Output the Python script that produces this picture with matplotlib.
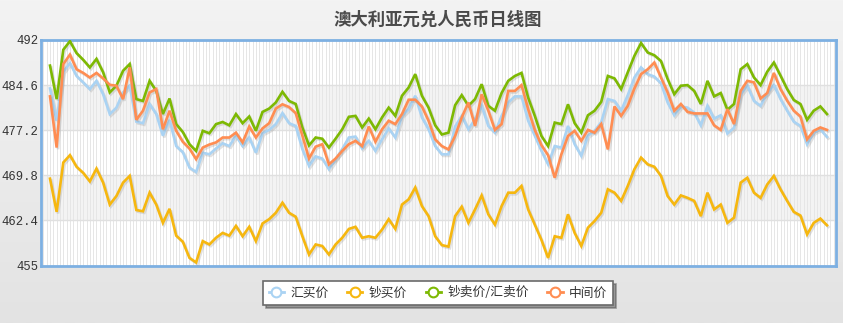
import numpy as np
import matplotlib
matplotlib.use('Agg')
import matplotlib.pyplot as plt
import matplotlib.patheffects as pe
from matplotlib.lines import Line2D
from matplotlib.colors import LinearSegmentedColormap

plt.rcParams['font.family'] = ['Noto Sans CJK SC', 'DejaVu Sans']

# daily quotes, oldest first
hui_mai = [
    484.05, 478.75, 486.8, 488.2, 486.1, 485.05, 483.95, 485.3, 483.1, 479.85,
    480.9, 483.4, 484.5, 478.6, 478.35, 481.5, 479.85, 476.3, 478.9, 474.6,
    473.6, 471.05, 470.35, 473.5, 473.25, 474.2, 475.05, 474.6, 476.3,
    474.6, 476.0, 473.5, 476.7, 477.25, 478.2, 480.0, 478.35, 477.9, 474.1,
    471.35, 472.9, 472.55, 470.8, 472.4, 474.1, 476.0, 476.15, 474.2, 475.45,
    473.8, 475.7, 477.5, 476.0, 479.55, 480.65, 482.85, 479.3, 477.35,
    474.6, 473.25, 473.25, 477.8, 479.55, 477.35, 479.0, 481.2, 477.9, 476.8,
    479.55, 481.75, 482.75, 482.75, 478.75, 476.3, 473.8, 471.6, 474.6, 474.35,
    477.9, 474.9, 473.0, 476.3, 477.1, 478.5, 482.3, 482.0, 480.4,
    482.95, 485.85, 487.5, 486.4, 486.0, 484.9, 481.75, 479.65, 481.1, 480.9,
    480.1, 478.0, 481.2, 479.1, 479.65, 476.65, 477.6, 483.1, 484.5, 482.0,
    481.2, 483.3, 484.6, 482.3, 480.4, 478.6, 477.9, 474.9, 476.8, 477.35, 476.1,
]

chao_mai = [
    469.25, 463.8, 471.9, 473.1, 471.2, 470.2, 468.8, 470.9, 468.6, 465.0,
    466.4, 468.6, 469.7, 464.1, 463.9, 466.95, 465.0, 462.0, 464.3, 459.9,
    458.9, 456.25, 455.5, 459.0, 458.45, 459.55, 460.35, 459.9, 461.5,
    459.8, 461.35, 459.0, 461.9, 462.6, 463.65, 465.3, 463.65, 463.0, 459.8,
    456.8, 458.45, 458.2, 456.8, 458.45, 459.55, 461.0, 461.35, 459.55, 459.8,
    459.55, 460.9, 462.6, 461.0, 465.0, 465.85, 467.8, 464.75, 463.1,
    459.8, 458.35, 458.1, 463.1, 464.65, 462.0, 464.2, 466.5, 463.4, 461.7,
    464.75, 466.95, 466.95, 468.05, 464.2, 461.7, 459.2, 456.25, 459.8, 459.55,
    463.4, 460.35, 458.2, 461.2, 462.3, 463.65, 467.5, 466.95, 465.6,
    468.05, 470.8, 472.7, 471.6, 471.2, 469.7, 466.4, 465.0, 466.5, 466.1,
    465.6, 463.1, 466.95, 464.2, 465.0, 462.0, 462.85, 468.6, 469.4, 466.95,
    466.1, 468.3, 469.7, 467.5, 465.6, 463.8, 463.2, 460.1, 462.0, 462.7, 461.6,
]

chao_mai_chu = [
    487.8, 482.3, 490.4, 491.8, 489.85, 488.75, 487.5, 488.9, 486.7, 483.4,
    484.5, 486.95, 488.05, 482.3, 482.0, 485.3, 483.65, 479.85, 482.4, 478.2,
    476.9, 474.9, 473.8, 477.1, 476.7, 478.2, 478.55, 478.0, 479.85,
    478.35, 479.45, 477.1, 480.2, 480.75, 481.75, 483.5, 482.0, 481.5, 477.65,
    474.7, 476.0, 475.8, 474.35, 475.8, 477.35, 479.4, 479.55, 477.65, 479.1,
    477.35, 479.3, 480.9, 479.55, 482.85, 484.2, 486.4, 482.85, 480.9,
    478.0, 476.5, 476.8, 481.3, 482.95, 481.2, 482.3, 484.75, 481.2, 480.4,
    483.3, 485.3, 486.1, 486.6, 482.55, 479.55, 476.25, 474.6, 478.45, 478.2,
    481.45, 478.35, 476.8, 479.65, 480.4, 481.85, 486.1, 485.7, 483.95,
    486.7, 489.4, 491.5, 489.95, 489.5, 488.55, 485.6, 483.1, 484.5, 484.6,
    483.65, 481.5, 485.3, 482.75, 483.3, 480.55, 481.5, 487.2, 488.05, 485.85,
    484.6, 486.8, 488.3, 486.15, 483.95, 482.15, 481.5, 478.9, 480.4, 481.1, 479.85,
]

zhong_jian = [
    482.75, 474.35, 488.05, 489.6, 487.2, 486.6, 485.85, 486.6, 485.7, 484.65,
    484.5, 482.3, 487.5, 478.9, 480.4, 483.4, 483.95, 477.35, 480.4, 477.1,
    475.3, 474.2, 472.45, 474.35, 474.85, 475.2, 476.0, 476.0, 476.8,
    475.2, 477.8, 476.0, 477.5, 478.35, 480.75, 481.45, 481.0, 480.0, 476.3,
    472.55, 474.5, 474.9, 471.6, 472.55, 473.8, 474.9, 475.45, 474.6, 477.8,
    475.3, 477.35, 478.75, 478.2, 479.85, 482.2, 482.2, 481.1, 478.75,
    475.7, 474.6, 474.05, 476.25, 479.3, 481.75, 477.9, 483.1, 480.4, 477.25,
    478.2, 483.65, 483.65, 484.6, 480.65, 477.25, 474.75, 473.1, 469.4, 473.25,
    476.25, 477.1, 475.45, 477.25, 476.8, 478.2, 474.05, 481.1, 479.55,
    481.2, 484.05, 486.4, 487.2, 488.3, 485.85, 483.4, 480.4, 481.5, 480.2,
    479.95, 479.95, 479.95, 478.0, 477.25, 480.65, 478.2, 483.65, 485.3, 485.05,
    482.4, 483.3, 486.6, 483.95, 482.05, 480.4, 479.45, 475.7, 477.1, 477.65, 477.25,
]

names = ['汇买价', '钞买价', '钞卖价/汇卖价', '中间价']
colors = ['#aad3f3', '#f6b70f', '#7db903', '#ff8d52']
yticks = [455, 462.4, 469.8, 477.2, 484.6, 492]
ytick_labels = ['455', '462.4', '469.8', '477.2', '484.6', '492']

W, H = 843, 323
fig = plt.figure(figsize=(W / 100, H / 100), dpi=100)

# light grey gradient behind everything
bg = fig.add_axes([0, 0, 1, 1], zorder=-10)
grad = np.linspace(0, 1, 256).reshape(-1, 1)
bg.imshow(grad, aspect='auto', extent=[0, 1, 0, 1],
          cmap=LinearSegmentedColormap.from_list('bg', ['#f3f3f3', '#e3e3e3']))
bg.axis('off')

ax = fig.add_axes([41 / W, 1 - 265.5 / H, (836 - 41) / W, (265.5 - 40) / H])
ax.set_facecolor('white')

n = len(hui_mai)
days = np.arange(n)
pad = 9 / (777 / (n - 1))
ax.set_xlim(-pad, n - 1 + pad)
ax.set_ylim(455, 492)

# alternating bands and grid
for i in range(len(yticks) - 1):
    if i % 2 == 1:
        ax.axhspan(yticks[i], yticks[i + 1], color='#f3f3f3', zorder=0, lw=0)
ax.vlines(np.arange(-1, n + 1, 0.5), 455, 492, color='#e6e6e6', lw=0.7, zorder=0.5)
ax.set_yticks(yticks)
ax.set_yticklabels(ytick_labels, family='Liberation Mono', fontsize=8.8, color='#333333')
ax.yaxis.grid(True, color='#e0e0e0', lw=1)
ax.set_axisbelow(True)
ax.tick_params(axis='y', length=0, pad=2)
ax.set_xticks([])
for sp in ax.spines.values():
    sp.set_color('#7db0e2')
    sp.set_linewidth(2)

shadow = [pe.SimpleLineShadow(offset=(1, -1.2), shadow_color='#888888', alpha=0.25),
          pe.Normal()]
for vals, c in zip([hui_mai, chao_mai, chao_mai_chu, zhong_jian], colors):
    ax.plot(days, vals, color=c, lw=1.9, zorder=3, path_effects=shadow,
            solid_joinstyle='miter')

fig.text(438 / W, 1 - 20 / H, '澳大利亚元兑人民币日线图', ha='center', va='center',
         fontsize=12.5, fontweight='bold', color='#4a4a4a')

handles = [Line2D([], [], color=c, lw=2, marker='o', markersize=7,
                  markerfacecolor='white', markeredgewidth=1.5) for c in colors]
leg = fig.legend(handles, names, loc='center', bbox_to_anchor=(438 / W, 1 - 293 / H),
                 ncol=4, fontsize=9.2, frameon=True, fancybox=False, shadow=True,
                 handlelength=1.2, handletextpad=0.5, columnspacing=1.45,
                 borderpad=0.45, labelcolor='#333333')
leg.get_frame().set_edgecolor('#6a6a6a')
leg.get_frame().set_linewidth(1.2)

fig.savefig('out.png', dpi=100)
